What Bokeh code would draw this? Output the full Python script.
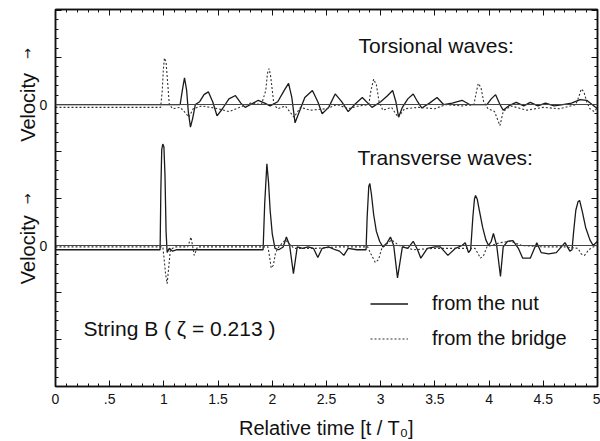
import math
from bokeh.plotting import figure
from bokeh.layouts import row
from bokeh.core.properties import value
from bokeh.models import (Range1d, LinearAxis, FixedTicker, CustomJSTickFormatter,
                          Span, Label, Legend, LegendItem)
from bokeh.embed import file_html
from bokeh.resources import INLINE

# ---------------- data ----------------
# relative time t/T0 and velocity (arbitrary units) -- transverse waves
trans_nut_t = [0.00, 0.50, 0.965, 0.972, 0.98, 0.99, 1.00, 1.01, 1.02, 1.03, 1.05, 1.08, 1.12,
               1.30, 1.50, 1.70, 1.915, 1.93, 1.95, 1.965, 1.98, 2.00, 2.025, 2.06, 2.10,
               2.13, 2.16, 2.195, 2.23, 2.28, 2.33, 2.38, 2.42, 2.46, 2.52, 2.58, 2.62,
               2.66, 2.70, 2.78, 2.865, 2.875, 2.89, 2.90, 2.915, 2.935, 2.96, 2.99, 3.02,
               3.06, 3.09, 3.12, 3.155, 3.20, 3.25, 3.30, 3.34, 3.37, 3.43, 3.50, 3.55,
               3.62, 3.69, 3.75, 3.78, 3.81, 3.83, 3.85, 3.865, 3.875, 3.89, 3.91, 3.94,
               3.97, 3.995, 4.02, 4.04, 4.07, 4.105, 4.13, 4.17, 4.22, 4.27, 4.31, 4.38,
               4.44, 4.48, 4.55, 4.62, 4.70, 4.745, 4.765, 4.78, 4.80, 4.82, 4.835, 4.86,
               4.89, 4.93, 4.96, 5.00]
trans_nut_v = [-0.03, -0.03, -0.03, 0.40, 0.68, 0.72, 0.70, 0.50, 0.10, -0.05, -0.02, -0.04, -0.03,
               -0.03, -0.03, -0.03, -0.03, 0.30, 0.58, 0.45, 0.25, 0.08, -0.02, -0.03, -0.01,
               0.06, 0.00, -0.20, -0.01, -0.02, -0.01, -0.02, -0.085, -0.02, -0.01, -0.03, -0.04,
               -0.07, -0.02, -0.03, -0.03, 0.20, 0.42, 0.44, 0.36, 0.22, 0.10, 0.03, -0.01,
               0.02, 0.06, 0.00, -0.23, -0.01, -0.02, 0.03, -0.03, -0.09, -0.02, -0.01, -0.01,
               -0.07, -0.02, 0.00, 0.02, -0.05, -0.03, 0.20, 0.33, 0.355, 0.33, 0.25, 0.13,
               0.04, 0.00, 0.03, 0.085, 0.00, -0.22, -0.01, 0.03, 0.035, -0.02, -0.09, -0.09,
               0.02, -0.05, -0.06, -0.05, 0.02, -0.04, -0.03, 0.10, 0.25, 0.31, 0.32, 0.24,
               0.13, 0.04, 0.00, 0.03]

trans_bridge_t = [0.00, 0.99, 1.00, 1.015, 1.03, 1.045, 1.06, 1.10, 1.22, 1.25, 1.28, 1.31,
                  1.50, 1.96, 1.975, 1.99, 2.01, 2.03, 2.06, 2.12, 2.16, 2.20, 2.40, 2.60,
                  2.88, 2.91, 2.95, 2.98, 3.01, 3.10, 3.17, 3.30, 3.50, 3.70, 3.87, 3.90,
                  3.92, 3.95, 3.98, 4.10, 4.20, 4.30, 4.50, 4.70, 4.82, 4.85, 4.88, 4.92,
                  4.96, 5.00]
trans_bridge_v = [-0.01, -0.01, -0.08, -0.20, -0.27, -0.15, -0.03, -0.01, -0.01, 0.06, -0.07, -0.01,
                  -0.01, -0.01, -0.08, -0.16, -0.14, -0.05, -0.01, 0.04, 0.01, -0.02, -0.02, -0.01,
                  -0.01, -0.06, -0.12, -0.10, -0.02, 0.04, 0.00, -0.03, -0.02, -0.02, -0.02, -0.06,
                  -0.09, -0.07, -0.01, 0.02, 0.03, 0.00, -0.01, -0.01, -0.02, -0.06, -0.07, -0.03,
                  -0.01, 0.00]

# torsional waves
tors_nut_t = [0.00, 1.15, 1.17, 1.19, 1.21, 1.225, 1.245, 1.265, 1.29, 1.33, 1.37, 1.41, 1.45,
              1.49, 1.54, 1.60, 1.66, 1.71, 1.75, 1.80, 1.87, 1.93, 1.98, 2.05, 2.11, 2.15,
              2.18, 2.21, 2.25, 2.30, 2.37, 2.42, 2.46, 2.52, 2.58, 2.64, 2.70, 2.76, 2.83,
              2.92, 3.00, 3.06, 3.11, 3.14, 3.165, 3.20, 3.25, 3.30, 3.34, 3.38, 3.45, 3.52,
              3.58, 3.66, 3.75, 3.82, 3.90, 3.98, 4.02, 4.06, 4.10, 4.13, 4.18, 4.25, 4.32,
              4.38, 4.45, 4.52, 4.60, 4.68, 4.76, 4.84, 4.90, 4.95, 5.00]
tors_nut_v = [0.00, 0.00, 0.10, 0.19, 0.10, -0.05, -0.16, -0.10, 0.00, 0.02, 0.07, 0.09, 0.02,
              -0.08, -0.03, 0.04, 0.064, 0.01, -0.02, 0.00, 0.03, 0.01, -0.01, 0.02, 0.10, 0.15,
              0.05, -0.13, -0.05, 0.05, 0.10, 0.02, -0.065, -0.02, 0.075, 0.02, -0.05, 0.00, 0.05,
              -0.02, 0.02, 0.06, 0.10, 0.02, -0.09, -0.02, 0.04, 0.075, 0.02, -0.025, 0.01, 0.05,
              0.00, 0.01, 0.03, 0.00, 0.00, 0.00, 0.04, 0.07, 0.00, -0.04, -0.01, 0.015, -0.01,
              0.015, -0.01, 0.01, -0.01, 0.00, 0.01, 0.035, 0.03, 0.00, -0.03]

tors_bridge_t = [0.00, 0.97, 0.985, 0.995, 1.005, 1.02, 1.035, 1.05, 1.08, 1.15, 1.20, 1.23,
                 1.27, 1.35, 1.50, 1.60, 1.70, 1.80, 1.90, 1.94, 1.955, 1.97, 1.985, 2.00,
                 2.015, 2.05, 2.12, 2.20, 2.26, 2.35, 2.50, 2.60, 2.70, 2.80, 2.89, 2.91,
                 2.935, 2.96, 2.985, 3.02, 3.10, 3.16, 3.22, 3.35, 3.50, 3.60, 3.75, 3.86,
                 3.88, 3.90, 3.925, 3.95, 3.99, 4.05, 4.10, 4.13, 4.20, 4.35, 4.50, 4.65,
                 4.80, 4.83, 4.85, 4.875, 4.90, 4.93, 4.97, 5.00]
tors_bridge_v = [-0.02, -0.02, 0.10, 0.25, 0.33, 0.30, 0.15, 0.00, -0.03, -0.02, -0.06, -0.09,
                 -0.03, -0.01, -0.03, -0.05, -0.02, 0.01, 0.00, 0.10, 0.22, 0.255, 0.20, 0.10,
                 0.00, -0.03, -0.01, -0.09, -0.02, -0.04, -0.03, 0.00, -0.03, -0.01, 0.00, 0.10,
                 0.18, 0.14, 0.02, -0.04, -0.02, -0.09, -0.03, -0.02, -0.03, 0.00, -0.01, 0.00,
                 0.08, 0.15, 0.12, 0.02, -0.03, -0.05, -0.15, -0.05, -0.01, -0.04, -0.02, -0.03,
                 0.00, 0.06, 0.11, 0.09, 0.02, -0.03, -0.05, -0.02]

x_ticks = [0.0, 0.5, 1.0, 1.5, 2.0, 2.5, 3.0, 3.5, 4.0, 4.5, 5.0]
x_tick_labels = ["0", ".5", "1", "1.5", "2", "2.5", "3", "3.5", "4", "4.5", "5"]
y_zero_ticks = [0.0, 1.0]          # baseline of transverse panel, baseline of torsional panel
y_tick_labels = ["0", "0"]

legend_labels = ["from the nut", "from the bridge"]
panel_titles = ["Torsional waves:", "Transverse waves:"]
string_note = "String B ( \u03b6 = 0.213 )"
x_title = "Relative time [t / T\u2080]"
y_title = "Velocity"
y_arrow = "\u2192"

# ---------------- figures ----------------
FONT = "Liberation Sans"
INK = "#111111"
LEFT_W = 50

yr = Range1d(-1.0, 1.674)

# narrow strip that carries the rotated "Velocity" titles and the "0" tick labels
side = figure(width=LEFT_W, height=441, output_backend="svg", toolbar_location=None,
              x_range=Range1d(0, LEFT_W), y_range=yr,
              x_axis_location=None, y_axis_location=None,
              min_border_left=0, min_border_right=0, min_border_top=9, min_border_bottom=55,
              background_fill_color="white", border_fill_color="white")
side.outline_line_color = None
side.xgrid.visible = False
side.ygrid.visible = False
side.text(x=[27, 27], y=[0.98, -0.03], text=[y_title, y_title], angle=math.pi / 2,
          text_font=value(FONT), text_font_size="20px", text_color=INK,
          text_align="center", text_baseline="middle")
side.text(x=[27, 27], y=[1.36, 0.33], text=[y_arrow, y_arrow], angle=math.pi / 2,
          text_font=value("DejaVu Sans"), text_font_size="13px", text_color=INK,
          text_align="center", text_baseline="middle")
side.text(x=[43, 43], y=y_zero_ticks, text=y_tick_labels,
          text_font=value(FONT), text_font_size="14px", text_color=INK,
          text_align="center", text_baseline="middle")

p = figure(width=600 - LEFT_W, height=441, output_backend="svg", toolbar_location=None,
           x_range=Range1d(0, 5), y_range=yr,
           min_border_left=5, min_border_right=3, min_border_top=9, min_border_bottom=55,
           background_fill_color="white", border_fill_color="white")
p.extra_y_ranges = {"tors": Range1d(-2.0, 0.674)}
p.xgrid.visible = False
p.ygrid.visible = False
p.outline_line_color = INK
p.outline_line_width = 1.5

x_minor = [round(i * 0.1, 1) for i in range(51)]
y_major = [k / 3 for k in range(-3, 6)]
y_minor = [k / 15 for k in range(-15, 26)]

xt = FixedTicker(ticks=x_ticks, minor_ticks=x_minor)
yt = FixedTicker(ticks=y_major, minor_ticks=y_minor)

xfmt = CustomJSTickFormatter(args=dict(tk=x_ticks, lb=x_tick_labels), code="""
for (let i = 0; i < tk.length; i++) { if (Math.abs(tick - tk[i]) < 1e-6) return lb[i]; }
return '';
""")
blank = CustomJSTickFormatter(code="return '';")

def style_axis(ax):
    ax.axis_line_color = INK
    ax.axis_line_width = 1.5
    ax.major_tick_line_color = INK
    ax.minor_tick_line_color = INK
    ax.major_tick_in = 6
    ax.major_tick_out = 0
    ax.minor_tick_in = 3
    ax.minor_tick_out = 0
    ax.major_label_text_font = FONT
    ax.major_label_text_color = INK

xa = p.xaxis[0]
xa.ticker = xt
xa.formatter = xfmt
style_axis(xa)
xa.major_label_text_font_size = "14px"
xa.major_label_standoff = 7
xa.axis_label = x_title
xa.axis_label_text_font = FONT
xa.axis_label_text_font_size = "20px"
xa.axis_label_text_font_style = "normal"
xa.axis_label_text_color = INK
xa.axis_label_standoff = 10

for side_name in ("left", "right"):
    ax = p.yaxis[0] if side_name == "left" else LinearAxis()
    ax.ticker = yt
    ax.formatter = blank
    style_axis(ax)
    ax.major_label_text_font_size = "1px"
    ax.major_label_standoff = 0
    if side_name == "right":
        p.add_layout(ax, "right")

top = LinearAxis(ticker=xt, formatter=blank)
style_axis(top)
top.major_label_text_font_size = "1px"
top.major_label_standoff = 0
p.add_layout(top, "above")

# zero lines
for z in y_zero_ticks:
    p.add_layout(Span(location=z, dimension="width", line_color="#444444", line_width=1))

# traces
r_tn = p.line(trans_nut_t, trans_nut_v, line_color="#1a1a1a", line_width=1.3)
r_tb = p.line(trans_bridge_t, trans_bridge_v, line_color="#333333", line_width=1.1,
              line_dash="2 2")
p.line(tors_nut_t, tors_nut_v, line_color="#1a1a1a", line_width=1.3, y_range_name="tors")
p.line(tors_bridge_t, tors_bridge_v, line_color="#333333", line_width=1.1,
       line_dash="2 2", y_range_name="tors")

# texts
def lab(x, y, text, size="21px", align="left"):
    p.add_layout(Label(x=x, y=y, text=text, text_font=FONT, text_font_size=size,
                       text_color=INK, text_align=align, text_baseline="middle"))

lab(2.795, 1.418, panel_titles[0])
lab(2.786, 0.624, panel_titles[1])
lab(0.258, -0.589, string_note)

legend = Legend(items=[LegendItem(label=legend_labels[0], renderers=[r_tn]),
                       LegendItem(label=legend_labels[1], renderers=[r_tb])],
                location=(315, 36), orientation="vertical",
                label_text_font=FONT, label_text_font_size="20px", label_text_color=INK,
                glyph_width=38, glyph_height=23, label_standoff=24, spacing=12,
                padding=0, margin=0, border_line_alpha=0, background_fill_alpha=0)
p.add_layout(legend, "center")

layout = row(side, p, spacing=0)
open("out.html", "w").write(file_html(layout, INLINE))
